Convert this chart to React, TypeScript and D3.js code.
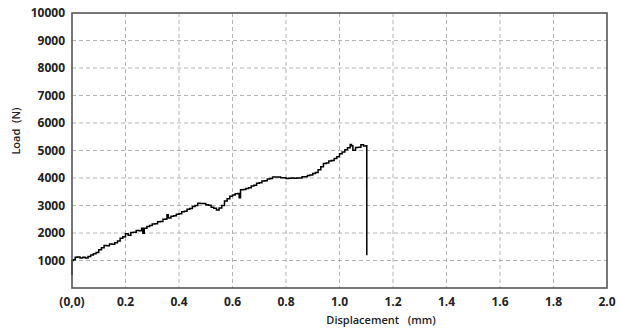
import React from "react";
import * as d3 from "d3";

// Load–displacement record of the specimen (mm, N)
const displacement = [
  0, 0, 0.005, 0.012, 0.02, 0.03, 0.04, 0.05, 0.06, 0.07, 0.08, 0.09, 0.1, 0.11, 0.12, 0.13, 0.14,
  0.15, 0.16, 0.17, 0.18, 0.19, 0.2, 0.21, 0.22, 0.23, 0.24, 0.25, 0.26, 0.265, 0.27, 0.28, 0.29,
  0.3, 0.31, 0.32, 0.33, 0.34, 0.35, 0.355, 0.36, 0.37, 0.38, 0.39, 0.4, 0.41, 0.42, 0.43, 0.44,
  0.45, 0.46, 0.47, 0.48, 0.49, 0.5, 0.51, 0.52, 0.53, 0.54, 0.55, 0.56, 0.57, 0.58, 0.59, 0.6,
  0.61, 0.62, 0.625, 0.63, 0.64, 0.65, 0.66, 0.67, 0.68, 0.69, 0.7, 0.71, 0.72, 0.73, 0.74, 0.75,
  0.76, 0.77, 0.78, 0.79, 0.8, 0.81, 0.82, 0.83, 0.84, 0.85, 0.86, 0.87, 0.88, 0.89, 0.9, 0.91,
  0.92, 0.93, 0.94, 0.95, 0.96, 0.97, 0.98, 0.99, 1.0, 1.01, 1.02, 1.03, 1.04, 1.045, 1.05, 1.06,
  1.07, 1.08, 1.09, 1.1, 1.102, 1.102,
];
const load = [
  460, 1000, 1030, 1120, 1130, 1090, 1120, 1090, 1150, 1200, 1250, 1290, 1390, 1460, 1550, 1540, 1600,
  1590, 1650, 1710, 1810, 1860, 1970, 1920, 2020, 2030, 2090, 2080, 2170, 1990, 2170, 2240, 2270,
  2330, 2340, 2410, 2420, 2500, 2510, 2660, 2550, 2610, 2630, 2680, 2700, 2770, 2790, 2860, 2890,
  2960, 3000, 3080, 3070, 3070, 3030, 3010, 2940, 2900, 2840, 2910, 3000, 3160, 3250, 3340, 3380,
  3430, 3440, 3280, 3570, 3580, 3620, 3650, 3710, 3740, 3810, 3830, 3890, 3900, 3960, 3980, 4040,
  4040, 4040, 4010, 4010, 3980, 3990, 4000, 3990, 4000, 4000, 4050, 4050, 4090, 4110, 4160, 4200,
  4300, 4410, 4530, 4550, 4620, 4640, 4710, 4770, 4880, 4950, 5030, 5100, 5220, 5170, 5010, 5110,
  5120, 5210, 5160, 5170, 5160, 1190,
];

const xTicks = [0, 0.2, 0.4, 0.6, 0.8, 1.0, 1.2, 1.4, 1.6, 1.8, 2.0];
const xTickLabels = ["(0,0)", "0.2", "0.4", "0.6", "0.8", "1.0", "1.2", "1.4", "1.6", "1.8", "2.0"];
const yTicks = [1000, 2000, 3000, 4000, 5000, 6000, 7000, 8000, 9000, 10000];

const W = 620;
const H = 329;
const M = { left: 72, right: 13, top: 13, bottom: 41 };

export default function App() {
  const x = d3.scaleLinear().domain([0, 2]).range([M.left, W - M.right]);
  const y = d3.scaleLinear().domain([0, 10000]).range([H - M.bottom, M.top]);
  const pts: [number, number][] = displacement.map((d, i) => [d, load[i]]);
  const line = d3
    .line<[number, number]>()
    .x((d) => x(d[0]))
    .y((d) => y(d[1]))
    .curve(d3.curveStepAfter);

  const font = "'Open Sans', 'Liberation Sans', Arial, sans-serif";

  return (
    <svg
      width={W}
      height={H}
      style={{ position: "absolute", left: 0, top: 0, background: "#fff" }}
      fontFamily={font}
    >
      <rect x={0} y={0} width={W} height={H} fill="#fff" />
      {/* grid */}
      {xTicks.slice(1, -1).map((t) => (
        <line
          key={"gx" + t}
          x1={x(t)}
          x2={x(t)}
          y1={y(10000)}
          y2={y(0)}
          stroke="#b4b4b4"
          strokeWidth={1}
          strokeDasharray="4,3"
        />
      ))}
      {yTicks.slice(0, -1).map((t) => (
        <line
          key={"gy" + t}
          x1={x(0)}
          x2={x(2)}
          y1={y(t)}
          y2={y(t)}
          stroke="#b4b4b4"
          strokeWidth={1}
          strokeDasharray="4,3"
        />
      ))}
      {/* curve */}
      <path d={line(pts) || ""} fill="none" stroke="#000" strokeWidth={1.5} strokeLinejoin="miter" />
      {/* frame */}
      <rect
        x={x(0)}
        y={y(10000)}
        width={x(2) - x(0)}
        height={y(0) - y(10000)}
        fill="none"
        stroke="#555"
        strokeWidth={1.6}
      />
      {/* y tick labels */}
      {yTicks.map((t) => (
        <text
          key={"ly" + t}
          x={65}
          y={y(t)}
          dy="0.35em"
          textAnchor="end"
          fontSize={12}
          fontWeight={700}
          fill="#222"
        >
          {t}
        </text>
      ))}
      {/* x tick labels */}
      {xTicks.map((t, i) => (
        <text
          key={"lx" + t}
          x={x(t)}
          y={306}
          textAnchor="middle"
          fontSize={12}
          fontWeight={700}
          fill="#222"
        >
          {xTickLabels[i]}
        </text>
      ))}
      <text x={381} y={324} textAnchor="middle" fontSize={11} fontWeight={600} fill="#222">
        Displacement{"\u00a0\u00a0\u00a0"}(mm)
      </text>
      <text
        transform={`translate(20,131) rotate(-90)`}
        textAnchor="middle"
        fontSize={11}
        fontWeight={600}
        fill="#222"
      >
        Load{"\u00a0\u00a0"}(N)
      </text>
    </svg>
  );
}
